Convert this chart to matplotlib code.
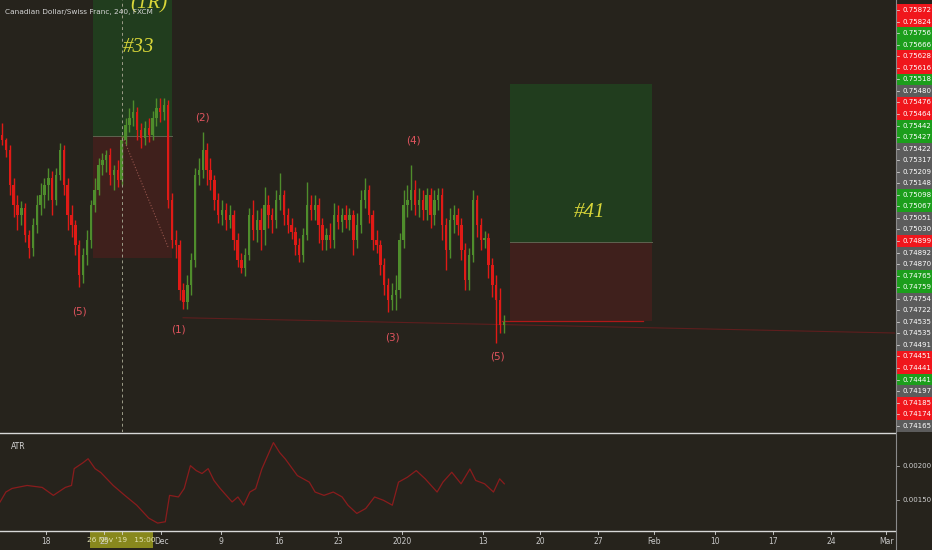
import numpy as np
import matplotlib.pyplot as plt
from matplotlib.patches import Rectangle
from matplotlib.lines import Line2D

W, H = 932, 550
BG = '#26231c'

# CADCHF candles (8h buckets), close prices
close = [0.7534, 0.7530, 0.7516, 0.7508, 0.7504, 0.75068, 0.7496, 0.74908, 0.7500, 0.7508,
         0.7512, 0.7516, 0.75188, 0.7510, 0.7520, 0.7530, 0.7516, 0.7504, 0.7500, 0.7492,
         0.7480, 0.7488, 0.7494, 0.7508, 0.7514, 0.7524, 0.7526, 0.7528, 0.7520, 0.7522,
         0.7518, 0.7534, 0.7540, 0.75428, 0.75452, 0.7538, 0.75348, 0.75388, 0.7536, 0.75428,
         0.75468, 0.75452, 0.7548, 0.7510, 0.7494, 0.7492, 0.7474, 0.74692, 0.7476, 0.7486,
         0.7520, 0.7522, 0.7530, 0.7522, 0.7518, 0.7510, 0.7504, 0.7506, 0.7502, 0.7504,
         0.7494, 0.7486, 0.74828, 0.7488, 0.7504, 0.7498, 0.7502, 0.7498, 0.7508, 0.7504,
         0.7502, 0.7510, 0.7512, 0.7504, 0.7500, 0.74972, 0.7492, 0.7488, 0.7496, 0.7508,
         0.7506, 0.7508, 0.7500, 0.7494, 0.7496, 0.7494, 0.7504, 0.75012, 0.7504, 0.7502,
         0.7504, 0.7494, 0.7500, 0.7510, 0.7514, 0.7504, 0.7494, 0.7492, 0.7484, 0.7476,
         0.7470, 0.7472, 0.7474, 0.7494, 0.7508, 0.7510, 0.7514, 0.7508, 0.7510, 0.7506,
         0.7512, 0.7504, 0.7510, 0.7512, 0.7500, 0.7490, 0.7502, 0.7504, 0.7500, 0.7490,
         0.7478, 0.7488, 0.7510, 0.7500, 0.7494, 0.74948, 0.7484, 0.7476, 0.7470, 0.7460,
         0.74612]
first_open = 0.7536
# wick lengths above / below the body, in pips
wick_up = [5, 1, 2, 3, 4, 3, 2, 2, 3, 4,
           5, 3, 4, 3, 3, 3, 2, 3, 4, 2,
           2, 3, 4, 2, 5, 3, 3, 2, 3, 2,
           4, 2, 3, 4, 5, 2, 3, 3, 4, 3,
           4, 4, 3, 2, 3, 4, 2, 3, 4, 3,
           3, 5, 7, 3, 5, 2, 3, 4, 3, 4,
           2, 3, 3, 3, 3, 6, 4, 5, 7, 4,
           3, 4, 9, 2, 3, 3, 2, 3, 3, 9,
           4, 4, 3, 3, 3, 5, 5, 4, 3, 4,
           3, 2, 5, 4, 5, 2, 2, 4, 2, 3,
           3, 5, 6, 3, 6, 6, 10, 4, 5, 4,
           3, 3, 4, 3, 3, 3, 5, 4, 3, 3,
           3, 3, 4, 2, 3, 3, 2, 3, 4, 5,
           3]
wick_dn = [2, 3, 4, 5, 6, 4, 3, 4, 3, 3,
           4, 5, 6, 6, 2, 2, 4, 6, 5, 4,
           5, 3, 4, 3, 3, 2, 4, 5, 4, 6,
           3, 2, 2, 3, 3, 4, 4, 3, 3, 2,
           3, 4, 3, 3, 3, 5, 4, 3, 3, 4,
           3, 4, 3, 6, 4, 4, 3, 4, 4, 3,
           4, 3, 2, 3, 2, 4, 5, 8, 6, 5,
           5, 3, 4, 4, 3, 3, 4, 3, 3, 2,
           4, 4, 7, 4, 4, 3, 3, 3, 4, 3,
           4, 6, 3, 3, 3, 3, 4, 3, 4, 4,
           5, 4, 6, 3, 3, 5, 4, 4, 5, 4,
           4, 5, 4, 4, 6, 8, 3, 5, 4, 4,
           4, 4, 3, 5, 4, 3, 5, 5, 17, 3,
           3]

# ATR(14) read at sample candles
atr_x = [-0.5, 1.0, 2.6, 6.5, 10.4, 13.3, 16.4, 18.0, 18.7, 21.0, 22.3, 24.1, 25.6, 28.8,
         31.8, 34.9, 38.0, 40.3, 42.3, 43.4, 45.7, 47.2, 48.8, 50.3, 51.8, 53.4, 54.9,
         56.5, 59.6, 61.1, 62.6, 64.2, 65.7, 67.3, 68.8, 70.3, 71.9, 73.4, 76.5, 79.6,
         81.1, 83.4, 85.8, 88.1, 89.6, 91.9, 94.2, 96.5, 98.8, 101.1, 102.7, 105.0,
         107.3, 109.6, 112.7, 114.2, 116.5, 118.9, 121.2, 122.7, 125.0, 127.3, 128.9, 130.1]
atr = [0.001476, 0.001619, 0.001671, 0.001714, 0.001686, 0.001571, 0.001686, 0.001714,
       0.001957, 0.002043, 0.002100, 0.001957, 0.001900, 0.001714, 0.001571, 0.001429,
       0.001243, 0.001171, 0.001190, 0.001571, 0.001548, 0.001671, 0.002000, 0.001929,
       0.001886, 0.001957, 0.001786, 0.001671, 0.001476, 0.001548, 0.001429, 0.001619,
       0.001667, 0.001952, 0.002143, 0.002333, 0.002190, 0.002095, 0.001857, 0.001762,
       0.001619, 0.001571, 0.001619, 0.001548, 0.001429, 0.001310, 0.001381, 0.001548,
       0.001500, 0.001429, 0.001762, 0.001833, 0.001929, 0.001810, 0.001619, 0.001762,
       0.001905, 0.001738, 0.001952, 0.001786, 0.001738, 0.001619, 0.001810, 0.001738]

# price scale tags (as shown on the right)
price_tags = ['0.75872', '0.75824', '0.75756', '0.75666', '0.75628', '0.75616', '0.75518',
              '0.75480', '0.75476', '0.75464', '0.75442', '0.75427', '0.75422', '0.75317',
              '0.75209', '0.75148', '0.75098', '0.75067', '0.75051', '0.75030', '0.74899',
              '0.74892', '0.74870', '0.74765', '0.74759', '0.74754', '0.74722', '0.74535',
              '0.74535', '0.74491', '0.74451', '0.74441', '0.74441', '0.74197', '0.74185',
              '0.74174', '0.74165']
tag_kind = ['r', 'r', 'g', 'g', 'r', 'r', 'g', 'n', 'r', 'r', 'g', 'g', 'n', 'n', 'n', 'n',
            'g', 'g', 'n', 'n', 'r', 'n', 'n', 'g', 'g', 'n', 'n', 'n', 'n', 'n', 'r', 'r',
            'g', 'n', 'r', 'r', 'n']
atr_ticks = [0.0015, 0.0020]

time_labels = ['18', '25', 'Dec', '9', '16', '23', '2020', '13', '20', '27', 'Feb', '10', '17', '24', 'Mar']
time_pos = [11.4, 26.4, 41.2, 56.7, 71.8, 87.0, 103.6, 124.6, 139.4, 154.4, 168.9, 184.7, 199.7, 214.8, 229.0]

# elliott wave labels: (text, candle, price)
waves = [('(5)', 20.0, 0.74656), ('(1)', 45.6, 0.74584), ('(2)', 51.8, 0.75428),
         ('(3)', 101.0, 0.74552), ('(4)', 106.5, 0.75336), ('(5)', 128.2, 0.74472)]

# position tools: (x0, x1, target, entry, stop, label)
trades = [(23.6, 44.0, 0.7610, 0.75357, 0.74868, '#33'),
          (131.6, 168.4, 0.75564, 0.74932, 0.74618, '#41')]

px = lambda x: x / W
py = lambda y: 1 - y / H

fig = plt.figure(figsize=(W / 100, H / 100), dpi=100, facecolor=BG)
ax = fig.add_axes([0, py(432), px(895), 432 / H], facecolor=BG)
aax = fig.add_axes([0, py(530), px(895), 96 / H], facecolor=BG)
pax = fig.add_axes([px(895), py(432), px(37), 432 / H], facecolor=BG)
apax = fig.add_axes([px(895), py(530), px(37), 96 / H], facecolor=BG)

x0, x1 = -0.52, 231.3
ylo, yhi = 0.74172, 0.7590
for a in (ax, aax, pax, apax):
    a.set_xticks([]); a.set_yticks([])
    for s in a.spines.values():
        s.set_visible(False)
ax.set_xlim(x0, x1); ax.set_ylim(ylo, yhi)
aax.set_xlim(x0, x1); aax.set_ylim(0.001071, 0.002457)
pax.set_xlim(0, 1); pax.set_ylim(ylo, yhi)
apax.set_xlim(0, 1); apax.set_ylim(0.001071, 0.002457)

# position boxes
for (a0, a1, tgt, ent, stp, lab) in trades:
    ax.add_patch(Rectangle((a0, ent), a1 - a0, tgt - ent, fc='#213d1e', ec='none', zorder=1))
    ax.add_patch(Rectangle((a0, stp), a1 - a0, ent - stp, fc='#3f201c', ec='none', zorder=1))
    ax.plot([a0, a1], [ent, ent], color='#5e6450', lw=0.7, zorder=1.5)

ax.text(35.3, 0.75708, '#33', color='#d9d639', fontsize=15, style='italic',
        family='Liberation Serif', ha='center', va='center', zorder=5)
ax.text(38.0, 0.75885, '(1R)', color='#d9d639', fontsize=15, style='italic',
        family='Liberation Serif', ha='center', va='center', zorder=5, clip_on=True)
ax.text(152.3, 0.75048, '#41', color='#d9d639', fontsize=15, style='italic',
        family='Liberation Serif', ha='center', va='center', zorder=5)

# candles
close = np.array(close)
opn = np.concatenate([[first_open], close[:-1]])
hi = np.maximum(opn, close) + np.array(wick_up) * 0.0001
lo = np.minimum(opn, close) - np.array(wick_dn) * 0.0001
idx = np.arange(len(close))
up = close >= opn
cols = np.where(up, '#4f8d2c', '#e01a16')
ax.vlines(idx, lo, hi, colors=cols, lw=1.0, zorder=3)
body = np.maximum(np.abs(close - opn), 0.00003)
ax.bar(idx, body, bottom=np.minimum(opn, close), width=0.62, color=cols, lw=0, zorder=3)

# lines on the chart
ax.axvline(31.1, color='#9c9c88', lw=0.7, dashes=(3, 3), zorder=4)
ax.plot([31.3, 43.0], [0.75352, 0.74912], color='#b86a60', lw=0.8, ls=':', alpha=0.7, zorder=4)
ax.plot([46.9, 231.3], [0.74629, 0.74568], color='#5e1e1e', lw=0.8, zorder=2)
ax.plot([129.5, 166.1], [0.74617, 0.74617], color='#b01818', lw=0.9, zorder=2)

for (t, xi, yi) in waves:
    ax.text(xi, yi, t, color='#e0545e', fontsize=7.5, ha='center', va='center', zorder=5)

ax.text(0.006, 0.972, 'Canadian Dollar/Swiss Franc, 240, FXCM', transform=ax.transAxes,
        color='#d4d4d4', fontsize=5.3, ha='left', va='center', zorder=6)

# ATR pane
aax.plot(atr_x, atr, color='#8a1c1c', lw=0.9)
aax.text(0.012, 0.87, 'ATR', transform=aax.transAxes, color='#d4d4d4', fontsize=5.5,
         ha='left', va='center')

# price scale tags
tag_fc = {'r': '#f0161c', 'g': '#1c9e1c', 'n': '#5c5c5c'}
step = 11.55 * (yhi - ylo) / 432
for k, (lab, kind) in enumerate(zip(price_tags, tag_kind)):
    yv = yhi - (10 + 11.55 * k) * (yhi - ylo) / 432
    pax.add_patch(Rectangle((0.03, yv - step / 2), 0.97, step, fc=tag_fc[kind], ec='none'))
    pax.plot([0.03, 0.12], [yv, yv], color='#e8e8e8', lw=0.5)
    pax.text(0.2, yv, lab, color='white', fontsize=5, ha='left', va='center')

for v in atr_ticks:
    apax.plot([0.03, 0.12], [v, v], color='#d0d0d0', lw=0.5)
    apax.text(0.2, v, '%.5f' % v, color='#d0d0d0', fontsize=5, ha='left', va='center')

# pane separators
fig.add_artist(Line2D([0, px(895)], [py(432.5), py(432.5)], color='#d8d8d8', lw=1.0))
fig.add_artist(Line2D([0, px(895)], [py(531), py(531)], color='#d8d8d8', lw=1.0))
fig.add_artist(Line2D([px(895.5), px(895.5)], [py(550), 1], color='#8a8a8a', lw=0.8))

# time axis
for lab, xv in zip(time_labels, time_pos):
    xf = px(895) * (xv - x0) / (x1 - x0)
    fig.add_artist(Line2D([xf, xf], [py(531), py(534)], color='#d8d8d8', lw=0.6))
    fig.text(xf, py(541.5), lab, color='#c8c8c8', fontsize=5.5, ha='center', va='center')
xf = px(895) * (31.1 - x0) / (x1 - x0)
fig.add_artist(Rectangle((px(90), py(548)), px(63), 16 / H, fc='#8e8e1e', ec='none',
                         alpha=0.95, transform=fig.transFigure))
fig.add_artist(Line2D([xf, xf], [py(531), py(534)], color='#d8d8d8', lw=0.6))
fig.text(px(121.5), py(540.5), "26 Nov '19   15:00", color='#e4e4b4', fontsize=5.3,
         ha='center', va='center')

fig.savefig('out.png', dpi=100, facecolor=BG)
